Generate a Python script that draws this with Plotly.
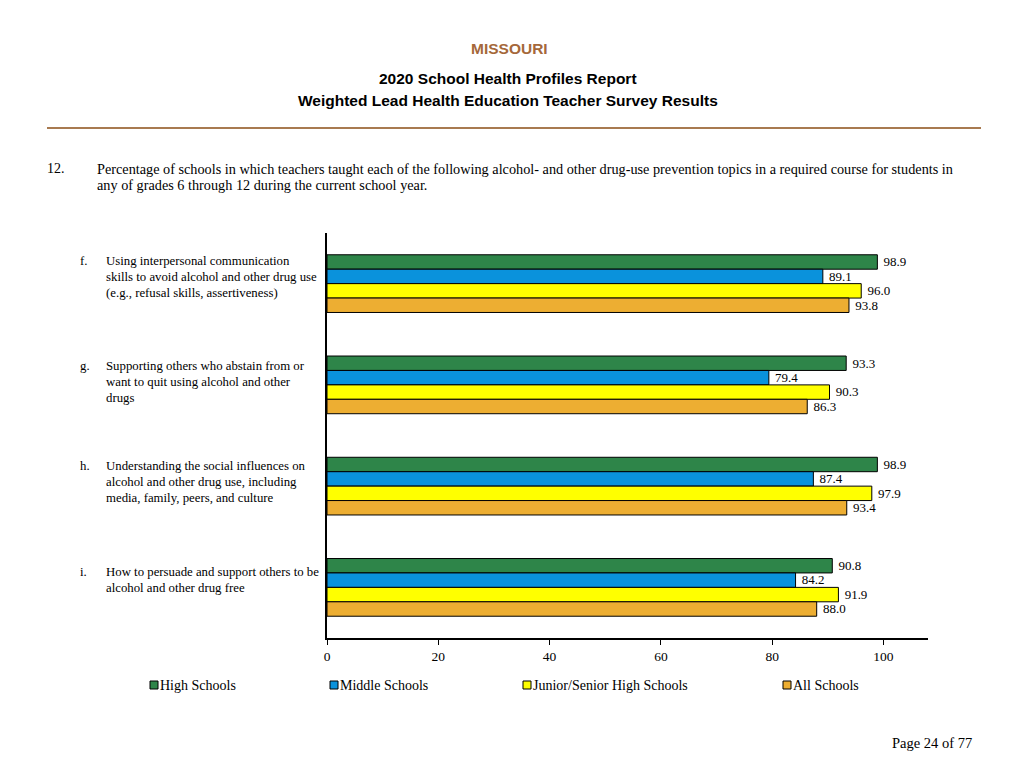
import plotly.graph_objects as go

categories = ["f", "g", "h", "i"]
category_letters = ["f.", "g.", "h.", "i."]
category_lines = [
    ["Using interpersonal communication", "skills to avoid alcohol and other drug use", "(e.g., refusal skills, assertiveness)"],
    ["Supporting others who abstain from or", "want to quit using alcohol and other", "drugs"],
    ["Understanding the social influences on", "alcohol and other drug use, including", "media, family, peers, and culture"],
    ["How to persuade and support others to be", "alcohol and other drug free"],
]
series_names = ["High Schools", "Middle Schools", "Junior/Senior High Schools", "All Schools"]
high_schools = [98.9, 93.3, 98.9, 90.8]
middle_schools = [89.1, 79.4, 87.4, 84.2]
junior_senior = [96.0, 90.3, 97.9, 91.9]
all_schools = [93.8, 86.3, 93.4, 88.0]
series_values = [high_schools, middle_schools, junior_senior, all_schools]
colors = ["#2E8549", "#0A92DC", "#FFFF00", "#EDAE32"]
tick_values = [0, 20, 40, 60, 80, 100]

SERIF = "Liberation Serif, Times New Roman, serif"
SANS = "Liberation Sans, Arial, sans-serif"

# page body has an 8px margin; compensate in figure margins
OFF = 8
L, R, T, B = 327, 928, 233, 638
W = R - L
PAD = 2  # annotation inner padding

fig = go.Figure()
for name, vals, col in zip(series_names, series_values, colors):
    fig.add_trace(go.Bar(
        y=categories, x=vals, orientation="h", name=name,
        marker=dict(color=col, line=dict(color="black", width=1)),
        text=["\u00a0" + f"{v:.1f}" for v in vals], textposition="outside",
        textfont=dict(family=SERIF, size=13.5, color="black"),
        cliponaxis=False, showlegend=False,
    ))

fig.update_layout(
    width=1024, height=768,
    margin=dict(l=L - OFF, r=1024 - R + OFF, t=T - OFF, b=768 - B + OFF),
    paper_bgcolor="white", plot_bgcolor="white",
    barmode="group", bargap=0.43, bargroupgap=0,
    xaxis=dict(range=[0, 108], tickvals=tick_values, showgrid=False, zeroline=False,
               showline=True, linecolor="black", linewidth=1.5,
               ticks="outside", ticklen=5, tickcolor="black",
               tickfont=dict(family=SERIF, size=13.5, color="black"), ticklabelstandoff=0),
    yaxis=dict(autorange="reversed", showticklabels=False, showgrid=False, zeroline=False,
               showline=True, linecolor="black", linewidth=1.5, ticks=""),
)

def px_x(p):
    return (p - L) / W

def px_y(p):
    return (B - p) / (B - T)

# category labels (first-line offset from category centre, in px, upward positive)
first_line_offsets = [23, 19, 20, 15]
for cat, letter, lines, off in zip(categories, category_letters, category_lines, first_line_offsets):
    fig.add_annotation(xref="paper", yref="y", x=0, y=cat, xshift=-(L - 80) - PAD, yshift=off,
                       text=letter, showarrow=False, xanchor="left", yanchor="middle",
                       font=dict(family=SERIF, size=12.8, color="black"))
    for k, line in enumerate(lines):
        fig.add_annotation(xref="paper", yref="y", x=0, y=cat, xshift=-(L - 106) - PAD,
                           yshift=off - 16 * k,
                           text=line, showarrow=False, xanchor="left", yanchor="middle",
                           font=dict(family=SERIF, size=12.8, color="black"))

# manual legend
legend_x_px = [150, 330, 523, 783]
for name, col, lx in zip(series_names, colors, legend_x_px):
    fig.add_shape(type="rect", xref="paper", yref="paper",
                  x0=px_x(lx), x1=px_x(lx + 8), y0=px_y(689), y1=px_y(681),
                  fillcolor=col, line=dict(color="black", width=1))
    fig.add_annotation(xref="paper", yref="paper", x=px_x(lx + 8), y=px_y(685), text=name,
                       showarrow=False, xanchor="left", yanchor="middle",
                       font=dict(family=SERIF, size=14, color="black"))

fig.add_annotation(xref="paper", yref="paper", x=px_x(509), y=px_y(49), text="<b>MISSOURI</b>",
                   showarrow=False, xanchor="center", yanchor="middle",
                   font=dict(family=SANS, size=15.5, color="#A5683A"))
fig.add_annotation(xref="paper", yref="paper", x=px_x(508), y=px_y(78),
                   text="<b>2020 School Health Profiles Report</b>",
                   showarrow=False, xanchor="center", yanchor="middle",
                   font=dict(family=SANS, size=15.5, color="black"))
fig.add_annotation(xref="paper", yref="paper", x=px_x(508), y=px_y(100),
                   text="<b>Weighted Lead Health Education Teacher Survey Results</b>",
                   showarrow=False, xanchor="center", yanchor="middle",
                   font=dict(family=SANS, size=15.5, color="black"))
fig.add_shape(type="line", xref="paper", yref="paper", x0=px_x(47), x1=px_x(981),
              y0=px_y(128), y1=px_y(128), line=dict(color="#A87A50", width=2))
fig.add_annotation(xref="paper", yref="paper", x=px_x(47 - PAD), y=px_y(169), text="12.",
                   showarrow=False, xanchor="left", yanchor="middle",
                   font=dict(family=SERIF, size=14, color="black"))
question_lines = [
    "Percentage of schools in which teachers taught each of the following alcohol- and other drug-use prevention topics in a required course for students in",
    "any of grades 6 through 12 during the current school year.",
]
for k, line in enumerate(question_lines):
    fig.add_annotation(xref="paper", yref="paper", x=px_x(97 - PAD), y=px_y(169 + 16 * k),
                       text=line, showarrow=False, xanchor="left", yanchor="middle",
                       font=dict(family=SERIF, size=14.25, color="black"))
fig.add_annotation(xref="paper", yref="paper", x=px_x(972 + PAD), y=px_y(743), text="Page 24 of 77",
                   showarrow=False, xanchor="right", yanchor="middle",
                   font=dict(family=SERIF, size=14.5, color="black"))

fig.write_html("out.html")
